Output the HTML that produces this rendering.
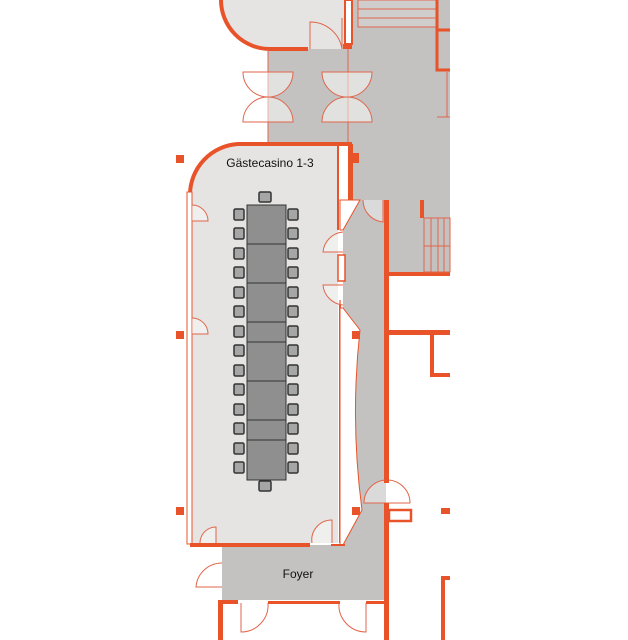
<!DOCTYPE html>
<html><head><style>body{margin:0;background:#fff}svg{display:block}</style></head><body>
<svg width="628" height="640" viewBox="0 0 628 640" xmlns="http://www.w3.org/2000/svg" font-family="Liberation Sans, sans-serif">
<g fill="#c3c2c1">
<rect x="268" y="49" width="82" height="95"/>
<rect x="348" y="0" width="102" height="275"/>
<polygon points="343,200 386,200 386,600 222,600 222,545 343,545"/>
</g>
<rect x="358" y="0" width="78" height="27" fill="#fff" opacity="0.2"/>
<!-- top room -->
<path d="M221,0 A49,49 0 0 0 270,49 L348,49 L348,0 Z" fill="#e5e4e3"/>
<path d="M221,0 A49,49 0 0 0 270,49 L308,49" fill="none" stroke="#e8532a" stroke-width="4"/>
<rect x="343" y="44" width="9" height="5" fill="#e8532a"/>
<rect x="345" y="0" width="7" height="44" fill="#fff" stroke="#e8532a" stroke-width="2"/>
<path d="M310,49 L310,22 A32,32 0 0 1 342,49" fill="none" stroke="#e0664a" stroke-width="1"/>
<path d="M342,18 L342,49" stroke="#e0664a" stroke-width="1"/>
<!-- stairs top -->
<g stroke="#e0664a" stroke-width="1" fill="none">
<rect x="358" y="0" width="78" height="27"/><line x1="358" y1="9" x2="436" y2="9"/><line x1="358" y1="18" x2="436" y2="18"/>
<line x1="447" y1="72" x2="447" y2="117"/><line x1="437" y1="117" x2="450" y2="117"/>
</g>
<path d="M437,0 L437,70 L450,70 M437,30 L450,30" fill="none" stroke="#e8532a" stroke-width="3"/>
<!-- corridor doors -->
<g stroke="#e0664a" stroke-width="1" fill="#fff" fill-opacity="0.5">
<line x1="268" y1="49" x2="268" y2="142" stroke="#e0664a"/>
<line x1="348" y1="49" x2="348" y2="142" stroke="#e0664a"/>
<path d="M243,72 L293,72 A25,25 0 0 1 243,72 Z"/>
<path d="M243,122 L293,122 A25,25 0 0 0 243,122 Z"/>
<path d="M322,72 L372,72 A25,25 0 0 1 322,72 Z"/>
<path d="M322,122 L372,122 A25,25 0 0 0 322,122 Z"/>
</g>
<!-- main room -->
<path d="M238,144 L338,144 L338,543 L190,543 L190,192 A48,48 0 0 1 238,144 Z" fill="#e5e4e3"/>
<path d="M190,195 A51,51 0 0 1 238,144 L352,144" fill="none" stroke="#e8532a" stroke-width="4"/>
<rect x="348" y="144" width="5" height="58" fill="#e8532a"/>
<rect x="353" y="153" width="6" height="10" fill="#e8532a"/>
<path d="M338,146 L338,230 M340,300 L340,543" stroke="#e8532a" stroke-width="2"/>
<polygon points="340,200 360,200 343,230 340,230" fill="#fff" stroke="#e8532a" stroke-width="1"/>
<path d="M343,308 L360,330 Q350,420 362,510 L343,545 L340,545 L340,308 Z" fill="#fff" stroke="#e8532a" stroke-width="1"/>
<rect x="338" y="255" width="7" height="26" fill="#fff" stroke="#e8532a" stroke-width="1.5"/>
<g stroke="#e8532a" fill="#fff" stroke-width="1">
<rect x="187" y="192" width="5" height="352"/>
</g>
<path d="M190,545 L220,545 M220,545 L310,545" stroke="#e8532a" stroke-width="4"/>
<path d="M331,545 L345,545" stroke="#e8532a" stroke-width="2"/>
<g stroke="#e0664a" stroke-width="1" fill="#fff" fill-opacity="0.4">
<path d="M192,205 A16,16 0 0 1 208,221 L192,221"/>
<path d="M192,318 A16,16 0 0 1 208,334 L192,334"/>
<path d="M200,543 A16,16 0 0 1 216,527 L216,543"/>
<path d="M312,543 A20,20 0 0 1 332,520 L332,543"/>
<path d="M343,232 A22,22 0 0 0 323,252 L343,252"/>
<path d="M343,305 A22,22 0 0 1 323,285 L343,285"/>
<path d="M363,200 A22,22 0 0 0 383,222 L383,200"/>
<path d="M364,503 A23,23 0 0 1 410,503 Z"/>
<path d="M222,563 A26,26 0 0 0 196,587 L222,587"/>
<path d="M241,603 L241,632 A27,27 0 0 0 268,603"/>
<path d="M366,603 L366,632 A27,27 0 0 1 339,603"/>
</g>
<!-- right walls -->
<g fill="#e8532a">
<rect x="384" y="200" width="5" height="283"/>
<rect x="384" y="503" width="5" height="137"/>
<rect x="388" y="330" width="62" height="5"/>
<rect x="430" y="334" width="4" height="42"/>
<rect x="430" y="373" width="20" height="4"/>
<rect x="420" y="200" width="4" height="18"/>
<rect x="388" y="272" width="62" height="4"/>
<rect x="441" y="576" width="4" height="64"/><rect x="441" y="576" width="9" height="4"/>
<rect x="218" y="600" width="5" height="40"/>
<rect x="218" y="600" width="20" height="4"/>
<rect x="268" y="601" width="72" height="3"/>
<rect x="366" y="601" width="20" height="3"/>
<rect x="176" y="155" width="8" height="8"/><rect x="176" y="331" width="8" height="8"/><rect x="176" y="507" width="8" height="8"/>
<rect x="352" y="331" width="8" height="8"/><rect x="352" y="507" width="8" height="8"/><rect x="441" y="508" width="9" height="6"/>
</g>
<rect x="389" y="510" width="22" height="11" fill="#fff" stroke="#e8532a" stroke-width="2.5"/>
<g stroke="#e0664a" stroke-width="1" fill="none">
<rect x="424" y="218" width="26" height="28"/><rect x="424" y="246" width="26" height="26"/>
<line x1="431" y1="218" x2="431" y2="272"/><line x1="438" y1="218" x2="438" y2="272"/><line x1="444" y1="218" x2="444" y2="272"/>
</g>
<!-- table -->
<rect x="247" y="205" width="39" height="275" fill="#8f8f8f" stroke="#333" stroke-width="1"/>
<g stroke="#333" stroke-width="1">
<line x1="247" y1="244" x2="286" y2="244"/><line x1="247" y1="283" x2="286" y2="283"/><line x1="247" y1="322" x2="286" y2="322"/>
<line x1="247" y1="342" x2="286" y2="342"/><line x1="247" y1="381" x2="286" y2="381"/><line x1="247" y1="420" x2="286" y2="420"/><line x1="247" y1="440" x2="286" y2="440"/>
</g>
<g fill="#a6a6a6" stroke="#333" stroke-width="1.5">
<rect x="259" y="192" width="12" height="10" rx="1.5"/><rect x="259" y="481" width="12" height="10" rx="1.5"/>
<rect x="234" y="209" width="10" height="11" rx="1.5"/><rect x="288" y="209" width="10" height="11" rx="1.5"/>
<rect x="234" y="228" width="10" height="11" rx="1.5"/><rect x="288" y="228" width="10" height="11" rx="1.5"/>
<rect x="234" y="248" width="10" height="11" rx="1.5"/><rect x="288" y="248" width="10" height="11" rx="1.5"/>
<rect x="234" y="267" width="10" height="11" rx="1.5"/><rect x="288" y="267" width="10" height="11" rx="1.5"/>
<rect x="234" y="287" width="10" height="11" rx="1.5"/><rect x="288" y="287" width="10" height="11" rx="1.5"/>
<rect x="234" y="306" width="10" height="11" rx="1.5"/><rect x="288" y="306" width="10" height="11" rx="1.5"/>
<rect x="234" y="326" width="10" height="11" rx="1.5"/><rect x="288" y="326" width="10" height="11" rx="1.5"/>
<rect x="234" y="345" width="10" height="11" rx="1.5"/><rect x="288" y="345" width="10" height="11" rx="1.5"/>
<rect x="234" y="365" width="10" height="11" rx="1.5"/><rect x="288" y="365" width="10" height="11" rx="1.5"/>
<rect x="234" y="384" width="10" height="11" rx="1.5"/><rect x="288" y="384" width="10" height="11" rx="1.5"/>
<rect x="234" y="404" width="10" height="11" rx="1.5"/><rect x="288" y="404" width="10" height="11" rx="1.5"/>
<rect x="234" y="423" width="10" height="11" rx="1.5"/><rect x="288" y="423" width="10" height="11" rx="1.5"/>
<rect x="234" y="443" width="10" height="11" rx="1.5"/><rect x="288" y="443" width="10" height="11" rx="1.5"/>
<rect x="234" y="462" width="10" height="11" rx="1.5"/><rect x="288" y="462" width="10" height="11" rx="1.5"/>
</g>
<text x="270" y="167" font-size="12" text-anchor="middle" fill="#111">Gästecasino 1-3</text>
<text x="298" y="578" font-size="12" text-anchor="middle" fill="#111">Foyer</text>
</svg>
</body></html>
